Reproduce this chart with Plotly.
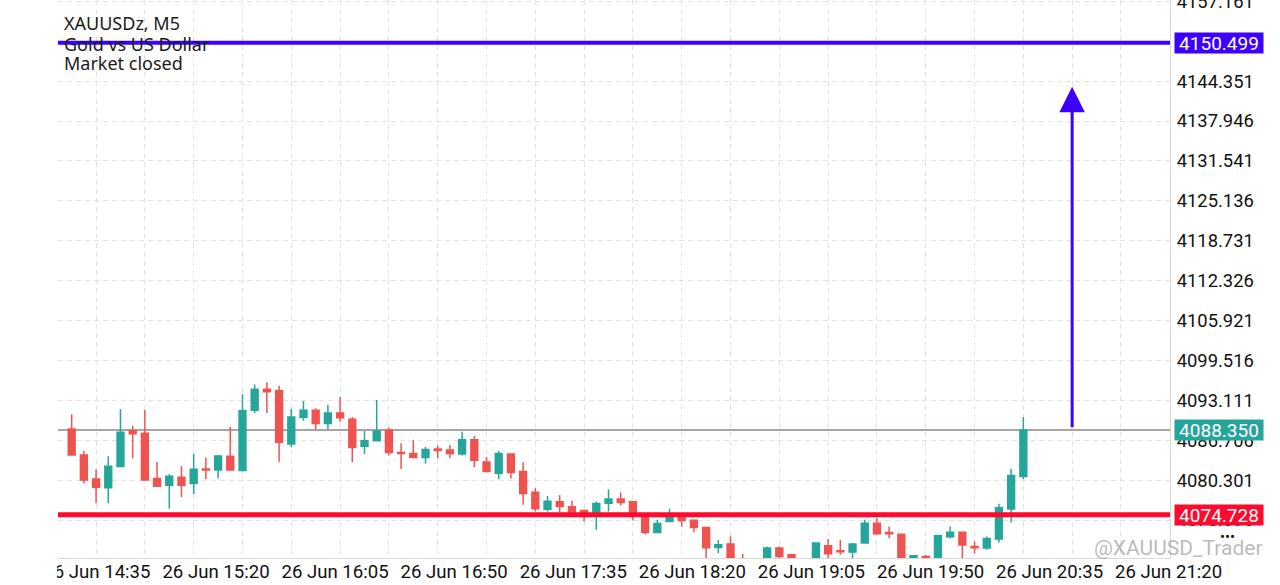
import plotly.graph_objects as go

# ---------------- data ----------------
bars = list(range(79))
open_ = [4088.51, 4084.34, 4080.50, 4079.06, 4082.47, 4088.24, 4087.82, 4080.55, 4079.48, 4080.76,
         4079.75, 4082.10, 4081.94, 4084.13, 4081.83, 4091.50, 4094.87, 4094.65, 4086.11, 4090.38,
         4091.50, 4089.37, 4091.07, 4090.06, 4085.73, 4086.64, 4088.30, 4084.72, 4084.56, 4083.92,
         4085.30, 4085.14, 4084.50, 4086.80, 4083.22, 4081.41, 4084.50, 4081.67, 4078.36, 4075.64,
         4076.81, 4076.01, 4075.42, 4074.99, 4076.60, 4077.29, 4076.81, 4074.41, 4071.90, 4073.66,
         4074.30, 4073.87, 4072.70, 4069.49, 4070.03, 4067.20, 4066.20, 4067.20, 4069.39, 4068.33,
         4066.60, 4067.30, 4069.76, 4068.96, 4068.75, 4070.19, 4073.39, 4071.90, 4071.63, 4067.30,
         4068.05, 4067.78, 4071.20, 4071.95, 4069.65, 4069.39, 4070.83, 4075.65, 4080.87]
high = [4090.86, 4084.98, 4081.99, 4084.13, 4091.66, 4089.04, 4091.56, 4083.27, 4081.25, 4082.58,
        4084.50, 4083.92, 4084.34, 4088.88, 4094.07, 4095.67, 4096.00, 4095.45, 4091.77, 4093.00,
        4091.82, 4092.41, 4093.64, 4090.43, 4088.19, 4093.16, 4088.72, 4086.21, 4086.69, 4085.63,
        4085.84, 4085.95, 4088.08, 4087.39, 4084.02, 4084.98, 4084.60, 4083.17, 4079.00, 4077.77,
        4077.88, 4076.97, 4075.58, 4076.86, 4078.84, 4078.30, 4076.97, 4074.73, 4073.93, 4075.69,
        4074.73, 4073.98, 4072.81, 4070.67, 4071.30, 4068.48, 4067.30, 4069.65, 4069.65, 4068.50,
        4067.40, 4070.30, 4070.83, 4070.72, 4070.19, 4073.93, 4074.19, 4072.86, 4071.70, 4068.30,
        4068.27, 4071.52, 4072.86, 4072.00, 4070.46, 4071.26, 4076.49, 4082.11, 4090.43]
low = [4084.20, 4079.80, 4076.60, 4076.60, 4082.40, 4083.81, 4080.30, 4079.30, 4075.69, 4077.56,
       4078.04, 4080.44, 4080.60, 4081.90, 4081.67, 4091.02, 4091.07, 4083.27, 4085.63, 4089.85,
       4088.46, 4088.46, 4089.69, 4083.17, 4084.50, 4086.60, 4084.24, 4082.10, 4083.90, 4082.95,
       4083.81, 4083.81, 4084.24, 4082.37, 4081.57, 4080.44, 4080.55, 4076.33, 4075.26, 4075.26,
       4075.16, 4075.10, 4073.66, 4072.32, 4075.26, 4076.22, 4073.82, 4071.63, 4071.85, 4073.60,
       4072.86, 4071.95, 4067.00, 4068.58, 4066.50, 4066.00, 4065.80, 4066.80, 4067.40, 4066.90,
       4066.00, 4067.00, 4067.78, 4068.33, 4067.52, 4070.15, 4071.52, 4070.99, 4067.00, 4067.00,
       4067.00, 4067.50, 4070.99, 4067.40, 4068.48, 4069.12, 4070.30, 4073.49, 4080.49]
close = [4084.34, 4080.34, 4079.16, 4082.53, 4087.98, 4087.76, 4080.34, 4079.32, 4080.92, 4079.48,
         4082.05, 4081.94, 4084.18, 4081.94, 4091.45, 4094.87, 4094.49, 4086.37, 4090.43, 4091.50,
         4089.37, 4091.07, 4090.33, 4085.52, 4086.64, 4088.19, 4084.72, 4084.56, 4083.92, 4085.20,
         4085.04, 4084.56, 4086.80, 4083.49, 4081.67, 4084.56, 4081.51, 4078.15, 4075.69, 4076.92,
         4076.06, 4075.16, 4074.83, 4076.54, 4077.29, 4076.70, 4074.73, 4071.90, 4073.34, 4074.35,
         4073.82, 4072.70, 4069.44, 4069.92, 4067.00, 4066.80, 4066.60, 4069.39, 4068.05, 4067.30,
         4066.20, 4070.19, 4068.48, 4068.80, 4070.03, 4073.39, 4071.68, 4071.68, 4067.30, 4068.16,
         4067.40, 4071.36, 4071.95, 4069.87, 4069.44, 4070.94, 4075.85, 4081.03, 4088.35]

y_tick_values = [4073.896, 4080.301, 4086.706, 4093.111, 4099.516, 4105.921, 4112.326,
                 4118.731, 4125.136, 4131.541, 4137.946, 4144.351, 4150.756, 4157.161]
x_tick_labels = ["26 Jun 14:35", "26 Jun 15:20", "26 Jun 16:05", "26 Jun 16:50", "26 Jun 17:35",
                 "26 Jun 18:20", "26 Jun 19:05", "26 Jun 19:50", "26 Jun 20:35", "26 Jun 21:20"]

resistance = 4150.499
support = 4074.728
last_price = close[-1]
arrow_target = 4143.45

# ---------------- layout constants ----------------
W, H = 1280, 585
L, R, T, B = 58, 110, 0, 27
PW, PH = W - L - R, H - T - B
x_range = [-1.12, 90.02]
y_range = [4067.80, 4157.37]
tick_first, tick_step = 2.07, 9.76
arrow_bar = len(bars) + 3

BLUE = "#3c00ff"
RED = "#ff0a2e"
GREEN = "#26a69a"
CRED = "#ef5350"
GRID = "#e3e3e3"

def px_x(p):
    return (p - L) / PW

def px_y(p):
    return 1 - (p - T) / PH

fig = go.Figure()
fig.add_trace(go.Candlestick(
    x=bars, open=open_, high=high, low=low, close=close,
    increasing=dict(line=dict(color=GREEN, width=1.5), fillcolor=GREEN),
    decreasing=dict(line=dict(color=CRED, width=1.5), fillcolor=CRED),
    showlegend=False, hoverinfo="skip",
))
# dummy trace to carry the vertical grid axis
fig.add_trace(go.Scatter(x=[bars[0]], y=[close[0]], xaxis="x2", mode="markers",
                         marker=dict(opacity=0), hoverinfo="skip", showlegend=False))

# horizontal levels
fig.add_shape(type="line", xref="paper", x0=0, x1=1, yref="y", y0=last_price, y1=last_price,
              line=dict(color="#8f8585", width=1.5), layer="below")
fig.add_shape(type="line", xref="paper", x0=0, x1=1, yref="y", y0=support, y1=support,
              line=dict(color=RED, width=5))
fig.add_shape(type="line", xref="paper", x0=0, x1=1, yref="y", y0=resistance, y1=resistance,
              line=dict(color=BLUE, width=4))
# mask clipping the first x label like the chart edge
fig.add_shape(type="rect", xref="paper", yref="paper", x0=-L / PW, x1=-1 / PW, y0=-B / PH, y1=-0.001,
              fillcolor="white", line=dict(width=0), layer="above")

annotations = []
# arrow
annotations.append(dict(x=arrow_bar, y=arrow_target, ax=arrow_bar, ay=last_price + 0.2,
                        xref="x", yref="y", axref="x", ayref="y", text="", showarrow=True,
                        arrowhead=2, arrowsize=1.7, arrowwidth=3, arrowcolor=BLUE, standoff=0))
# title lines
for txt, py in [("XAUUSDz, M5", 23), ("Gold vs US Dollar", 44), ("Market closed", 63)]:
    annotations.append(dict(x=px_x(62), y=px_y(py), xref="paper", yref="paper", text=txt,
                            showarrow=False, xanchor="left", yanchor="middle",
                            font=dict(family="Noto Sans", size=18, color="#1a1a1a")))
# price tags
for val, col in [(resistance, BLUE), (last_price, GREEN), (support, RED)]:
    annotations.append(dict(x=1, y=val, xref="paper", yref="y", text=f"{val:.3f}",
                            showarrow=False, xanchor="left", yanchor="middle", xshift=4,
                            bgcolor=col, width=84, height=16, borderpad=2,
                            font=dict(family="Roboto", size=19, color="white")))
# watermark and dots
annotations.append(dict(x=px_x(1265), y=px_y(548), xref="paper", yref="paper",
                        text="@XAUUSD_Trader", showarrow=False, xanchor="right", yanchor="middle",
                        font=dict(family="Roboto", size=21, color="rgba(140,140,140,0.6)")))
annotations.append(dict(x=px_x(1227), y=px_y(537), xref="paper", yref="paper", text="•••",
                        showarrow=False, xanchor="center", yanchor="middle",
                        font=dict(family="Roboto", size=15, color="#111")))

fig.update_layout(
    width=W, height=H, margin=dict(l=L, r=R, t=T, b=B, pad=0, autoexpand=False),
    paper_bgcolor="white", plot_bgcolor="white",
    boxgap=0.2, annotations=annotations,
    xaxis=dict(range=x_range, rangeslider=dict(visible=False), showgrid=False, zeroline=False,
               automargin=False, tickmode="array",
               tickvals=[tick_first + i * tick_step for i in range(len(x_tick_labels))],
               ticktext=x_tick_labels, ticks="", showline=True, linecolor="#d8d8d8",
               ticklabelstandoff=-3,
               tickfont=dict(family="Roboto", size=18.6, color="#111")),
    xaxis2=dict(range=x_range, overlaying="x", anchor="y", side="bottom", tickmode="linear",
                tick0=2, dtick=4, showgrid=True, gridcolor=GRID, griddash="5px,4px",
                automargin=False, showticklabels=False, ticks="", zeroline=False, showline=False),
    yaxis=dict(range=y_range, side="right", tickmode="array", tickvals=y_tick_values,
               ticktext=[f"{v:.3f}" for v in y_tick_values], showgrid=True, gridcolor=GRID,
               griddash="5px,4px", zeroline=False, ticks="", showline=True, linecolor="#d8d8d8",
               ticklabeloverflow="allow", automargin=False, ticklabelstandoff=2,
               tickfont=dict(family="Roboto", size=18.4, color="#111")),
)

fig.write_html("out.html")
